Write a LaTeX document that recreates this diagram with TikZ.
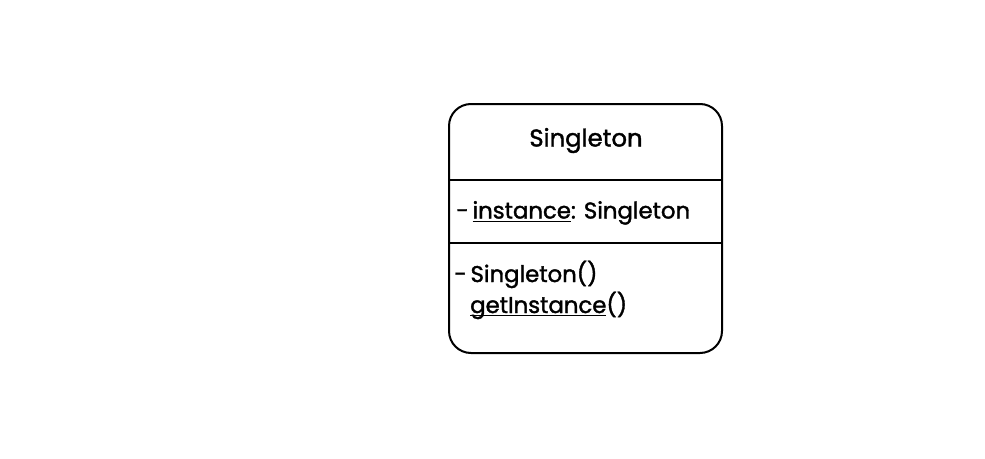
\documentclass[tikz,border=0pt]{standalone}
\usepackage{fontspec}
\setmainfont{Poppins}
\newfontfamily\medfont[FakeBold=1.6]{Poppins}
\usetikzlibrary{positioning}
\newlength\ulwd
\newcommand\uln[1]{\settowidth\ulwd{#1}\rlap{\rule[-3.4pt]{\ulwd}{1.4pt}}#1}

\begin{document}
\begin{tikzpicture}[x=1pt,y=-1pt,
  umlbox/.style={draw,line width=2pt,rounded corners=22pt,minimum width=273pt,minimum height=249pt,inner sep=0pt},
  divider/.style={line width=1.6pt},
  member/.style={anchor=base west,inner sep=0pt,font=\medfont\fontsize{22.8}{27}\selectfont}]
\useasboundingbox (0,0) rectangle (985,458);
\node[umlbox] (cls) at (585.5,228.5) {};
\node[anchor=base,inner sep=0pt,font=\medfont\fontsize{24.3}{29}\selectfont] (title) at (586,146.5) {Singleton};
% compartments
\coordinate (r1) at (0,180);
\coordinate (r2) at (0,243);
\draw[divider] (cls.west |- r1) -- (cls.east |- r1);
\draw[divider] (cls.west |- r2) -- (cls.east |- r2);
\node[member] (attr) at (456,218.5) {-\,\uln{instance}: Singleton};
\node[member] (ctor) at (454,282) {-\,Singleton()};
\node[member] (getter) at (470,313) {\uln{getInstance}()};
\end{tikzpicture}
\end{document}
